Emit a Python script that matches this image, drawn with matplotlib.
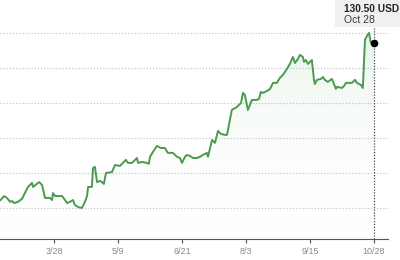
import matplotlib
matplotlib.use("Agg")
import matplotlib.pyplot as plt
import numpy as np
from matplotlib.colors import LinearSegmentedColormap

# Trading-session index and price
session = [0, 1.6, 3.0, 4.4, 5.3, 6.3, 8.1, 10.0, 11.4, 12.8, 14.7, 15.2, 17.0, 18.0, 19.4,
           20.8, 23.1, 24.1, 24.5, 25.5, 28.8, 29.2, 31.1, 32.5, 33.9, 34.8, 36.3, 38.1, 39.5,
           40.5, 41.0, 42.8, 43.3, 44.2, 45.2, 46.6, 48.0, 48.4, 49.4, 52.2, 53.6, 55.9, 57.3,
           58.7, 59.7, 61.6, 63.0, 63.9, 64.4, 66.3, 68.6, 69.5, 70.0, 71.4, 73.3, 74.2, 75.2,
           77.0, 78.4, 80.8, 82.7, 84.1, 85.0, 86.4, 87.3, 88.8, 90.2, 92.0, 93.4, 94.8, 96.7,
           97.2, 99.1, 100.5, 101.9, 103.3, 105.2, 106.1, 108.4, 110.8, 112.7, 113.6, 114.5,
           115.9, 117.8, 120.2, 121.1, 122.0, 123.0, 124.8, 126.3, 127.7, 129.5, 130.9, 132.3,
           134.2, 135.6, 137.0, 138.0, 139.4, 140.3, 141.7, 142.2, 143.1, 144.1, 145.9, 146.9,
           147.3, 148.3, 150.2, 151.1, 152.0, 153.4, 155.3, 157.2, 157.7, 160.0, 161.0, 161.9,
           163.3, 164.7, 166.1, 167.0, 168.9, 169.8, 170.8, 171.7, 172.7, 173.6, 175.0]
price = [63.4, 65.1, 64.3, 62.6, 63.0, 62.1, 62.6, 63.9, 66.4, 69.0, 70.7, 69.0, 70.3, 71.1, 69.9,
         64.3, 64.3, 63.4, 66.4, 65.1, 65.1, 64.7, 62.1, 62.6, 63.4, 61.3, 60.4, 60.0, 62.6,
         65.1, 69.0, 69.0, 77.1, 77.6, 71.1, 71.6, 70.7, 70.3, 75.0, 75.4, 78.4, 78.0, 79.3,
         80.6, 79.3, 79.3, 80.6, 81.4, 79.3, 79.7, 79.3, 78.9, 81.9, 84.0, 86.6, 86.1, 85.7,
         85.7, 83.6, 83.6, 81.9, 81.4, 79.3, 81.9, 82.7, 82.3, 81.4, 81.4, 81.9, 82.7, 83.6,
         81.9, 89.1, 87.9, 93.0, 91.7, 91.3, 91.3, 102.0, 103.3, 105.0, 109.3, 108.4,
         102.0, 106.3, 106.3, 106.7, 109.7, 109.3, 110.1, 111.0, 113.6, 113.6, 115.7, 117.0,
         119.6, 121.7, 124.7, 122.1, 123.9, 125.6, 124.7, 122.6, 123.4, 121.7, 123.4, 114.9,
         113.1, 114.9, 115.3, 116.1, 114.9, 114.0, 115.3, 111.0, 111.9, 111.4, 112.3, 113.6,
         113.6, 113.6, 114.9, 113.6, 112.7, 111.4, 132.0, 133.7, 135.0, 130.7, 130.5]

tick_pos = [25, 55, 85, 115, 145, 175]
tick_labels = ["3/28", "5/9", "6/21", "8/3", "9/15", "10/28"]
grid_vals = [60, 75, 90, 105, 120, 135]
last_label = "130.50 USD"
last_date = "Oct 28"

plt.rcParams['font.family'] = ['Liberation Sans', 'DejaVu Sans']

fig = plt.figure(figsize=(4, 2.6), dpi=100)
ax = fig.add_axes([0, 1 - 239 / 260, 388 / 400, 239 / 260])
ymin, ymax = 46.7, 149.1
xmin, xmax = -0.3, 181.6
ax.set_xlim(xmin, xmax)
ax.set_ylim(ymin, ymax)

line_color = "#4b9a4f"

# gradient fill under the line
poly = ax.fill_between(session, price, ymin, color="none", lw=0)
cmap = LinearSegmentedColormap.from_list("g", [(1, 1, 1, 0), (0.30, 0.62, 0.31, 0.13)])
grad = np.linspace(0, 1, 256).reshape(-1, 1)
im = ax.imshow(grad, cmap=cmap, aspect="auto", origin="lower",
               extent=[xmin, xmax, ymin, 140], zorder=1)
path = poly.get_paths()[0]
im.set_clip_path(path, transform=ax.transData)

for g in grid_vals:
    ax.axhline(g, color="#c8c8c8", lw=0.8, linestyle=(0, (1.2, 1.6)), zorder=0)

ax.plot(session, price, color=line_color, lw=1.4, zorder=3, solid_joinstyle="round")

ax.axvline(session[-1], ymin=0, ymax=(239 - 27) / 239, color="#444444", lw=0.9,
           linestyle=(0, (1, 1.3)), zorder=2)
ax.plot([session[-1]], [price[-1]], "o", color="black", markersize=4.5, zorder=4)

for s in ["top", "right", "left"]:
    ax.spines[s].set_visible(False)
ax.spines["bottom"].set_color("#555555")
ax.spines["bottom"].set_linewidth(0.8)
ax.set_yticks([])
ax.set_xticks(tick_pos)
ax.set_xticklabels(tick_labels, fontsize=6.5, color="#8a8a8a")
ax.tick_params(axis="x", length=3, width=0.8, color="#555555", pad=3)

# tooltip box
fig.patches.append(plt.Rectangle((335 / 400, 1 - 27 / 260), 65 / 400, 27 / 260,
                                 transform=fig.transFigure, facecolor="#f0f0f0",
                                 edgecolor="none", zorder=5))
fig.text(344 / 400, 1 - 8.5 / 260, last_label, fontsize=7.3, color="#222222",
         fontweight="semibold", va="center", ha="left", zorder=6)
fig.text(344 / 400, 1 - 20.5 / 260, last_date, fontsize=7.5, color="#3a3a3a",
         va="center", ha="left", zorder=6)

fig.savefig("out.png", dpi=100)
